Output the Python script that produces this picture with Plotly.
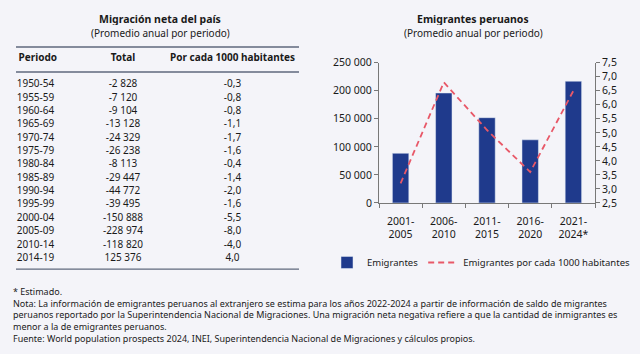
import plotly.graph_objects as go

# ---- Table data ----
encabezados = ["Periodo", "Total", "Por cada 1000 habitantes"]
periodos = ["1950-54", "1955-59", "1960-64", "1965-69", "1970-74", "1975-79", "1980-84",
            "1985-89", "1990-94", "1995-99", "2000-04", "2005-09", "2010-14", "2014-19"]
total = [-2828, -7120, -9104, -13128, -24329, -26238, -8113,
         -29447, -44772, -39495, -150888, -228974, -118820, 125376]
por_mil = [-0.3, -0.8, -0.8, -1.1, -1.7, -1.6, -0.4,
           -1.4, -2.0, -1.6, -5.5, -8.0, -4.0, 4.0]

# ---- Chart data ----
categorias = ["2001-<br>2005", "2006-<br>2010", "2011-<br>2015", "2016-<br>2020", "2021-<br>2024*"]
emigrantes = [88500, 196000, 152000, 112500, 217000]
emig_por_mil = [3.2, 6.8, 5.1, 3.6, 6.5]

BG = "rgb(244,244,249)"
TXT = "#1a1a1a"
BAR = "rgb(31,58,140)"
LINE = "rgb(232,88,104)"
RULE = "rgb(95,104,125)"
AX = "rgb(120,120,120)"
FONT = "Noto Sans"


def fmt_int(v):
    return f"{v:,}".replace(",", " ")


def fmt_dec(v):
    return f"{v:.1f}".replace(".", ",")


fig = go.Figure()

# Bars + line
fig.add_trace(go.Bar(x=categorias, y=emigrantes, name="Emigrantes", marker_color=BAR,
                     width=0.38, xaxis="x", yaxis="y"))
fig.add_trace(go.Scatter(x=categorias, y=emig_por_mil, name="Emigrantes por cada 1000 habitantes",
                         mode="lines", line=dict(color=LINE, width=1.8, dash="6px,4px"),
                         xaxis="x", yaxis="y2"))

# Table as text on hidden axes
rows = list(range(len(periodos)))
fig.add_trace(go.Scatter(x=[16.7] * len(periodos), y=rows, text=periodos, mode="text",
                         textposition="middle right", textfont=dict(size=10, color=TXT, family=FONT),
                         xaxis="x3", yaxis="y3", showlegend=False, hoverinfo="skip", cliponaxis=False))
fig.add_trace(go.Scatter(x=[123] * len(total), y=rows, text=[fmt_int(v) for v in total], mode="text",
                         textposition="middle center", textfont=dict(size=10, color=TXT, family=FONT),
                         xaxis="x3", yaxis="y3", showlegend=False, hoverinfo="skip", cliponaxis=False))
fig.add_trace(go.Scatter(x=[232.5] * len(por_mil), y=rows, text=[fmt_dec(v) for v in por_mil], mode="text",
                         textposition="middle center", textfont=dict(size=10, color=TXT, family=FONT),
                         xaxis="x3", yaxis="y3", showlegend=False, hoverinfo="skip", cliponaxis=False))
fig.add_trace(go.Scatter(x=[18.5, 123, 232.5], y=[-2, -2, -2], text=[f"<b>{h}</b>" for h in encabezados],
                         mode="text", textposition=["middle right", "middle center", "middle center"],
                         textfont=dict(size=10, color=TXT, family=FONT),
                         xaxis="x3", yaxis="y3", showlegend=False, hoverinfo="skip", cliponaxis=False))

for yv in [-2.83, -0.957, 13.81]:
    fig.add_shape(type="line", xref="x3", yref="y3", x0=16, x1=299, y0=yv, y1=yv,
                  line=dict(color=RULE, width=1.3))

annots = [
    dict(x=0.25, y=1 - 12.5 / 354, text="<b>Migración neta del país</b>", size=10.5),
    dict(x=0.25, y=1 - 27 / 354, text="(Promedio anual por periodo)", size=10),
    dict(x=473 / 640, y=1 - 12.5 / 354, text="<b>Emigrantes peruanos</b>", size=10.5),
    dict(x=473 / 640, y=1 - 27 / 354, text="(Promedio anual por periodo)", size=10),
]
nota = ("* Estimado.<br>"
        "Nota: La información de emigrantes peruanos al extranjero se estima para los años 2022-2024 a partir de información de saldo de migrantes<br>"
        "peruanos reportado por la Superintendencia Nacional de Migraciones. Una migración neta negativa refiere a que la cantidad de inmigrantes es<br>"
        "menor a la de emigrantes peruanos.<br>"
        "Fuente: World population prospects 2024, INEI, Superintendencia Nacional de Migraciones y cálculos propios.")
for a in annots:
    fig.add_annotation(xref="paper", yref="paper", showarrow=False, xanchor="center", yanchor="middle",
                       x=a["x"], y=a["y"], text=a["text"], height=12,
                       font=dict(family=FONT, color=TXT, size=a["size"]))
fig.add_annotation(xref="paper", yref="paper", showarrow=False, xanchor="left", yanchor="top", align="left",
                   x=11 / 640, y=1 - 287 / 354, text=nota, font=dict(family=FONT, color=TXT, size=9))

fig.update_layout(
    width=640, height=354, margin=dict(l=0, r=0, t=0, b=0),
    paper_bgcolor=BG, plot_bgcolor=BG, separators=", ",
    font=dict(family=FONT, color=TXT, size=10),
    showlegend=True,
    legend=dict(orientation="h", x=327 / 640, y=1 - 266 / 354, xanchor="left", yanchor="middle",
                bgcolor="rgba(0,0,0,0)", font=dict(size=9.5, family=FONT, color=TXT)),
    xaxis=dict(domain=[379 / 640, 595 / 640], anchor="y", showline=True, linecolor=AX, linewidth=1,
               ticks="outside", tickson="boundaries", ticklen=4, tickcolor=AX, showgrid=False,
               tickfont=dict(size=10.5), ticklabelstandoff=8, fixedrange=True),
    yaxis=dict(domain=[1 - 204 / 354, 1 - 58 / 354], range=[0, 250000], dtick=50000, showline=True,
               linecolor=AX, ticks="outside", ticklen=4, tickcolor=AX, showgrid=False, zeroline=False,
               exponentformat="none", separatethousands=True, tickfont=dict(size=10.5)),
    yaxis2=dict(domain=[1 - 204 / 354, 1 - 58 / 354], range=[2.5, 7.5], dtick=0.5, overlaying="y",
                side="right", anchor="x", showline=True, linecolor=AX, ticks="outside", ticklen=4,
                tickcolor=AX, showgrid=False, zeroline=False, tickformat=".1f", tickfont=dict(size=10.5)),
    xaxis3=dict(domain=[0, 0.5], range=[0, 320], visible=False, anchor="y3"),
    yaxis3=dict(domain=[0, 1], range=[19.640, -5.8273], visible=False, anchor="x3"),
)

fig.write_html("out.html")
